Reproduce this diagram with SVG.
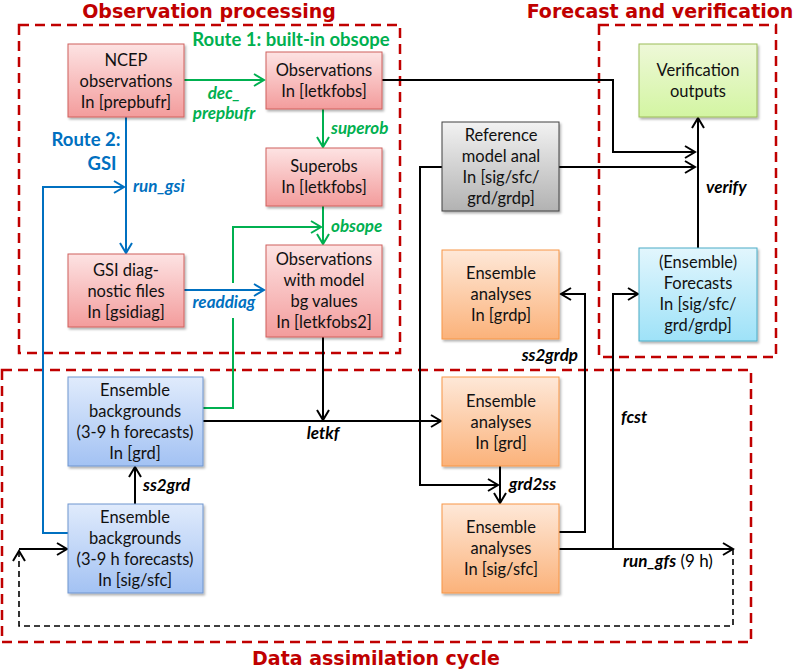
<svg xmlns="http://www.w3.org/2000/svg" width="800" height="671" viewBox="0 0 800 671">
<defs>
<style>
.t{font-family:Lato,"Open Sans","DejaVu Sans",sans-serif;font-size:16.5px;fill:#111;text-anchor:middle}
.lb{font-family:Lato,"Open Sans","DejaVu Sans",sans-serif;font-size:17px;font-weight:bold;font-style:italic}
.rt{font-family:Lato,"Open Sans","DejaVu Sans",sans-serif;font-size:18.5px;font-weight:bold}
.ttl{font-family:"DejaVu Sans",Verdana,sans-serif;font-size:19px;font-weight:bold;fill:#c00000;text-anchor:middle}
.grp{fill:none;stroke:#c00000;stroke-width:2.5;stroke-dasharray:10,6}
.k{fill:none;stroke:#000;stroke-width:2}
.g{fill:none;stroke:#00b050;stroke-width:2}
.b{fill:none;stroke:#0070c0;stroke-width:2}
.d{fill:none;stroke:#000;stroke-width:1.6;stroke-dasharray:6,4}
.box{filter:url(#sh)}
</style>
<filter id="sh" x="-10%" y="-10%" width="125%" height="125%">
<feDropShadow dx="1.5" dy="2" stdDeviation="1.2" flood-color="#000" flood-opacity="0.3"/>
</filter>
<linearGradient id="gr" x1="0" y1="0" x2="0" y2="1"><stop offset="0" stop-color="#fde3e3"/><stop offset="1" stop-color="#f39c9c"/></linearGradient>
<linearGradient id="gb" x1="0" y1="0" x2="0" y2="1"><stop offset="0" stop-color="#e0ebfc"/><stop offset="1" stop-color="#a3c2f3"/></linearGradient>
<linearGradient id="go" x1="0" y1="0" x2="0" y2="1"><stop offset="0" stop-color="#fee8d8"/><stop offset="1" stop-color="#fbb27a"/></linearGradient>
<linearGradient id="gg" x1="0" y1="0" x2="0" y2="1"><stop offset="0" stop-color="#f2f2f2"/><stop offset="1" stop-color="#b2b2b2"/></linearGradient>
<linearGradient id="gv" x1="0" y1="0" x2="0" y2="1"><stop offset="0" stop-color="#eef8d8"/><stop offset="1" stop-color="#d3f5a2"/></linearGradient>
<linearGradient id="gc" x1="0" y1="0" x2="0" y2="1"><stop offset="0" stop-color="#e2f6fd"/><stop offset="1" stop-color="#9ee2f8"/></linearGradient>
<marker id="ak" viewBox="-12 -7 14 14" markerWidth="14" markerHeight="14" refX="0" refY="0" orient="auto" markerUnits="userSpaceOnUse"><path d="M-10,-6 L0,0 L-10,6" fill="none" stroke="#000" stroke-width="2"/></marker>
<marker id="ag" viewBox="-12 -7 14 14" markerWidth="14" markerHeight="14" refX="0" refY="0" orient="auto" markerUnits="userSpaceOnUse"><path d="M-10,-6 L0,0 L-10,6" fill="none" stroke="#00b050" stroke-width="2"/></marker>
<marker id="ab" viewBox="-12 -7 14 14" markerWidth="14" markerHeight="14" refX="0" refY="0" orient="auto" markerUnits="userSpaceOnUse"><path d="M-10,-6 L0,0 L-10,6" fill="none" stroke="#0070c0" stroke-width="2"/></marker>
</defs>
<rect width="800" height="671" fill="#fff"/>

<g id="groups">
<rect class="grp" x="19" y="25" width="381" height="328"/>
<rect class="grp" x="599" y="25" width="177" height="332"/>
<rect class="grp" x="2" y="370" width="749" height="272"/>
<text class="ttl" x="209" y="18">Observation processing</text>
<text class="ttl" x="660" y="18">Forecast and verification</text>
<text class="ttl" x="376" y="665">Data assimilation cycle</text>
</g>

<g id="connectors">
<!-- green route 1 -->
<path class="g" d="M184,80 H264" marker-end="url(#ag)"/>
<path class="g" d="M323,109 V147" marker-end="url(#ag)"/>
<path class="g" d="M323,206 V244" marker-end="url(#ag)"/>
<path class="g" d="M203,408 H233 V318"/>
<path class="g" d="M233,283 V227 H321" marker-end="url(#ag)"/>
<!-- blue route 2 -->
<path class="b" d="M126,117 V253" marker-end="url(#ab)"/>
<path class="b" d="M68,533 H43 V187 H124" marker-end="url(#ab)"/>
<path class="b" d="M184,290 H264" marker-end="url(#ab)"/>
<!-- black -->
<path class="k" d="M382,80 H613 V152 H695" marker-end="url(#ak)"/>
<path class="k" d="M559,167 H695" marker-end="url(#ak)"/>
<path class="k" d="M698,248 V118" marker-end="url(#ak)"/>
<path class="k" d="M442,167 H420 V485 H498" marker-end="url(#ak)"/>
<path class="k" d="M323,337 V420" marker-end="url(#ak)"/>
<path class="k" d="M203,421 H441" marker-end="url(#ak)"/>
<path class="k" d="M135,504 V467" marker-end="url(#ak)"/>
<path class="k" d="M500,466 V503" marker-end="url(#ak)"/>
<path class="k" d="M559,532 H585 V294 H561" marker-end="url(#ak)"/>
<path class="k" d="M613,549 V294 H638" marker-end="url(#ak)"/>
<path class="k" d="M559,549 H733" marker-end="url(#ak)"/>
<path class="d" d="M733,549 V626 H19 V551" marker-end="url(#ak)"/>
<path class="k" d="M19,549 H67" marker-end="url(#ak)"/>
<!-- labels -->
<text class="rt" x="291" y="46" text-anchor="middle" fill="#00b050">Route 1: built-in obsope</text>
<text class="lb" x="224" y="99" text-anchor="middle" fill="#00b050">dec_</text>
<text class="lb" x="224" y="119" text-anchor="middle" fill="#00b050">prepbufr</text>
<text class="lb" x="331" y="134" fill="#00b050">superob</text>
<text class="lb" x="331" y="232" fill="#00b050">obsope</text>
<text class="rt" x="86" y="146" text-anchor="middle" fill="#0070c0">Route 2:</text>
<text class="rt" x="102" y="170" text-anchor="middle" fill="#0070c0">GSI</text>
<text class="lb" x="133" y="192" fill="#0070c0">run_gsi</text>
<text class="lb" x="224" y="308" text-anchor="middle" fill="#0070c0">readdiag</text>
<text class="lb" x="706" y="193">verify</text>
<text class="lb" x="578" y="361" text-anchor="end">ss2grdp</text>
<text class="lb" x="323" y="439" text-anchor="middle">letkf</text>
<text class="lb" x="143" y="491">ss2grd</text>
<text class="lb" x="509" y="490">grd2ss</text>
<text class="lb" x="621" y="423">fcst</text>
<text class="lb" x="623" y="567">run_gfs<tspan style="font-weight:normal;font-style:normal"> (9 h)</tspan></text>
</g>

<g id="ncep"><rect class="box" x="68" y="44" width="116" height="73" fill="url(#gr)" stroke="#d0605c"/>
<text class="t" x="126" y="66">NCEP</text><text class="t" x="126" y="87">observations</text><text class="t" x="126" y="108">In [prepbufr]</text></g>

<g id="obs"><rect class="box" x="266" y="52" width="116" height="57" fill="url(#gr)" stroke="#d0605c"/>
<text class="t" x="324" y="76">Observations</text><text class="t" x="324" y="97">In [letkfobs]</text></g>

<g id="superobs"><rect class="box" x="266" y="148" width="116" height="58" fill="url(#gr)" stroke="#d0605c"/>
<text class="t" x="324" y="172">Superobs</text><text class="t" x="324" y="193">In [letkfobs]</text></g>

<g id="obsbg"><rect class="box" x="266" y="245" width="116" height="92" fill="url(#gr)" stroke="#d0605c"/>
<text class="t" x="324" y="265">Observations</text><text class="t" x="324" y="286">with model</text><text class="t" x="324" y="307">bg values</text><text class="t" x="324" y="328">In [letkfobs2]</text></g>

<g id="gsidiag"><rect class="box" x="68" y="254" width="116" height="73" fill="url(#gr)" stroke="#d0605c"/>
<text class="t" x="126" y="276">GSI diag-</text><text class="t" x="126" y="297">nostic files</text><text class="t" x="126" y="318">In [gsidiag]</text></g>

<g id="refanal"><rect class="box" x="442" y="122" width="117" height="89" fill="url(#gg)" stroke="#404040"/>
<text class="t" x="501" y="141">Reference</text><text class="t" x="501" y="162">model anal</text><text class="t" x="501" y="183">In [sig/sfc/</text><text class="t" x="501" y="204">grd/grdp]</text></g>

<g id="verif"><rect class="box" x="639" y="44" width="118" height="73" fill="url(#gv)" stroke="#9bbb59"/>
<text class="t" x="698" y="76">Verification</text><text class="t" x="698" y="97">outputs</text></g>

<g id="fcsts"><rect class="box" x="639" y="248" width="118" height="93" fill="url(#gc)" stroke="#4bacc6"/>
<text class="t" x="698" y="268">(Ensemble)</text><text class="t" x="698" y="289">Forecasts</text><text class="t" x="698" y="310">In [sig/sfc/</text><text class="t" x="698" y="331">grd/grdp]</text></g>

<g id="anagrdp"><rect class="box" x="442" y="250" width="117" height="89" fill="url(#go)" stroke="#f79646"/>
<text class="t" x="501" y="279">Ensemble</text><text class="t" x="501" y="300">analyses</text><text class="t" x="501" y="321">In [grdp]</text></g>

<g id="anagrd"><rect class="box" x="442" y="377" width="117" height="89" fill="url(#go)" stroke="#f79646"/>
<text class="t" x="501" y="407">Ensemble</text><text class="t" x="501" y="428">analyses</text><text class="t" x="501" y="449">In [grd]</text></g>

<g id="anasig"><rect class="box" x="442" y="504" width="117" height="89" fill="url(#go)" stroke="#f79646"/>
<text class="t" x="501" y="533">Ensemble</text><text class="t" x="501" y="554">analyses</text><text class="t" x="501" y="575">In [sig/sfc]</text></g>

<g id="bggrd"><rect class="box" x="68" y="377" width="135" height="89" fill="url(#gb)" stroke="#6f95cf"/>
<text class="t" x="135" y="396">Ensemble</text><text class="t" x="135" y="417">backgrounds</text><text class="t" x="135" y="438">(3-9 h forecasts)</text><text class="t" x="135" y="459">In [grd]</text></g>

<g id="bgsig"><rect class="box" x="68" y="504" width="135" height="89" fill="url(#gb)" stroke="#6f95cf"/>
<text class="t" x="135" y="523">Ensemble</text><text class="t" x="135" y="544">backgrounds</text><text class="t" x="135" y="565">(3-9 h forecasts)</text><text class="t" x="135" y="586">In [sig/sfc]</text></g>
</svg>
